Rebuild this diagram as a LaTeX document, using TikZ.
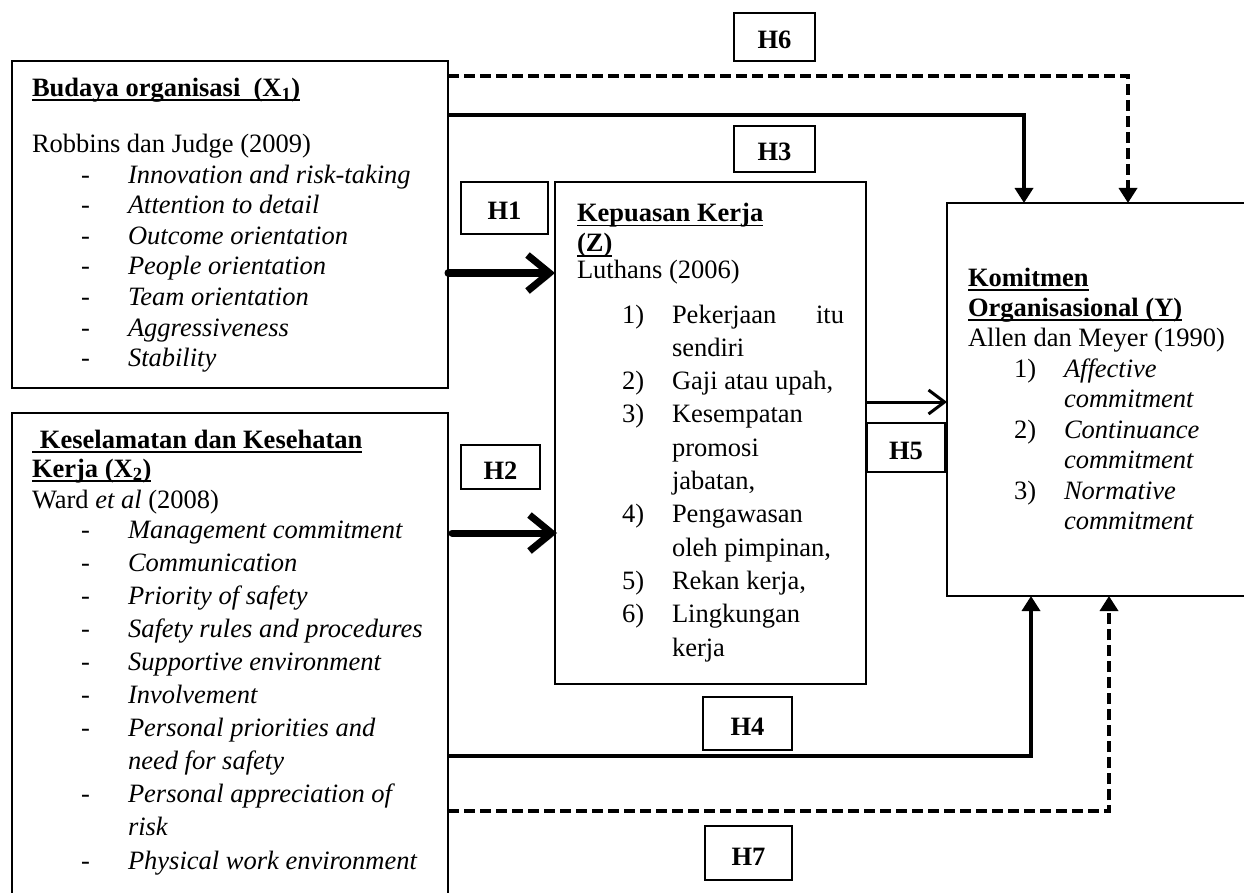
\documentclass[tikz,border=0pt]{standalone}
\usepackage{fontspec}
\setmainfont{Liberation Serif}
\usetikzlibrary{arrows.meta}
\newcommand\hdul[1]{\setbox0\hbox{#1}\rlap{\rule[-4.5pt]{\wd0}{1.8pt}}\box0}
\begin{document}
\begin{tikzpicture}[x=1pt,y=-1pt,
  every node/.style={inner sep=0pt, outer sep=0pt, font=\fontsize{26.5}{30}\selectfont},
  bigbox/.style={draw, line width=2pt, anchor=north west},
  hbox/.style={draw, line width=1.8pt, anchor=north west, font=\bfseries\fontsize{26.5}{30}\selectfont, text height=24pt, text depth=0pt},
  txt/.style={anchor=base west},
  conn/.style={line width=3.5pt, line join=miter},
  dconn/.style={line width=3.5pt, line join=miter, dash pattern=on 11pt off 5pt},
  tip/.style={-{Triangle[length=15pt,width=18pt]}},
  bigarrow/.style={line width=7pt, line cap=round, -{Straight Barb[length=22pt,width=36pt]},
    preaction={draw=black!30, transform canvas={shift={(2pt,-3pt)}}}},
  midarrow/.style={line width=3pt, -{Straight Barb[length=16pt,width=24pt]}}]
\useasboundingbox (0,0) rectangle (1244,893);

% ---------- boxes ----------
\node[bigbox, minimum width=436pt, minimum height=327pt] (x1) at (12,61) {};
\node[bigbox, minimum width=436pt, minimum height=500pt] (x2) at (12,413) {};
\node[bigbox, line width=2.4pt, minimum width=311pt, minimum height=502pt] (z) at (555,182) {};
\node[bigbox, line width=2.4pt, minimum width=310pt, minimum height=393pt] (y) at (947,203) {};

% ---------- hypothesis labels ----------
\node[hbox, minimum width=81pt, minimum height=48pt] (h6) at (734,13) {H6};
\node[hbox, minimum width=81pt, minimum height=46pt] (h3) at (734,126) {H3};
\node[hbox, minimum width=87pt, minimum height=52pt] (h1) at (461,182) {H1};
\node[hbox, minimum width=79pt, minimum height=44pt] (h2) at (461,445) {H2};
\node[hbox, minimum width=78pt, minimum height=49pt] (h5) at (867,423) {H5};
\node[hbox, minimum width=89pt, minimum height=53pt] (h4) at (703,697) {H4};
\node[hbox, minimum width=87pt, minimum height=54pt] (h7) at (705,826) {H7};

% ---------- X1 text ----------
\node[txt] (x1h) at (32,96.7) {\bfseries\hdul{Budaya organisasi \ (X\textsubscript{1})}};
\node[txt] (x1r) at (32,152.7) {Robbins dan Judge (2009)};
\foreach \t [count=\i] in {Innovation and risk-taking, Attention to detail, Outcome orientation, People orientation, Team orientation, Aggressiveness, Stability}{
  \node[txt] (x1d\i) at (81,152.5+30.6*\i) {-};
  \node[txt] (x1i\i) at (128,152.5+30.6*\i) {\itshape \t};
}

% ---------- X2 text ----------
\node[txt] (x2h) at (32,448) {\bfseries\hdul{\hspace*{0.3em}Keselamatan dan Kesehatan}};
\node[txt] (x2k) at (32,477) {\bfseries\hdul{Kerja (X\textsubscript{2})}};
\node[txt] (x2r) at (32,508) {Ward \textit{et al} (2008)};
\foreach \t/\d [count=\i from 0] in {Management commitment/1, Communication/1, Priority of safety/1, Safety rules and procedures/1, Supportive environment/1, Involvement/1, Personal priorities and/1, need for safety/0, Personal appreciation of/1, risk/0, Physical work environment/1}{
  \ifnum\d=1 \node[txt] (x2d\i) at (81,538+33.1*\i) {-};\fi
  \node[txt] (x2i\i) at (128,538+33.1*\i) {\itshape \t};
}

% ---------- Z text ----------
\node[txt] (zh) at (577,222) {\bfseries\hdul{Kepuasan Kerja}};
\node[txt] (zh2) at (577,252) {\bfseries\hdul{(Z)}};
\node[txt] (zr) at (577,279) {Luthans (2006)};
\node[txt] (zn1) at (622,323) {1)};
\node[txt] (zt1) at (672,323) {\makebox[172pt][l]{Pekerjaan\hfill itu}};
\node[txt] (zt1b) at (672,356.3) {sendiri};
\node[txt] (zn2) at (622,389.6) {2)};
\node[txt] (zt2) at (672,389.6) {Gaji atau upah,};
\node[txt] (zn3) at (622,422.9) {3)};
\node[txt] (zt3) at (672,422.9) {Kesempatan};
\node[txt] (zt3b) at (672,456.2) {promosi};
\node[txt] (zt3c) at (672,489.5) {jabatan,};
\node[txt] (zn4) at (622,522.8) {4)};
\node[txt] (zt4) at (672,522.8) {Pengawasan};
\node[txt] (zt4b) at (672,556.1) {oleh pimpinan,};
\node[txt] (zn5) at (622,589.4) {5)};
\node[txt] (zt5) at (672,589.4) {Rekan kerja,};
\node[txt] (zn6) at (622,622.7) {6)};
\node[txt] (zt6) at (672,622.7) {Lingkungan};
\node[txt] (zt6b) at (672,656) {kerja};

% ---------- Y text ----------
\node[txt] (yh) at (968,286) {\bfseries\hdul{Komitmen}};
\node[txt] (yh2) at (968,316) {\bfseries\hdul{Organisasional (Y)}};
\node[txt] (yr) at (968,346) {Allen dan Meyer (1990)};
\node[txt] (yn1) at (1014,377) {1)};
\node[txt] (yt1) at (1064,377) {\itshape Affective};
\node[txt] (yt1b) at (1064,407.5) {\itshape commitment};
\node[txt] (yn2) at (1014,438) {2)};
\node[txt] (yt2) at (1064,438) {\itshape Continuance};
\node[txt] (yt2b) at (1064,468.5) {\itshape commitment};
\node[txt] (yn3) at (1014,499) {3)};
\node[txt] (yt3) at (1064,499) {\itshape Normative};
\node[txt] (yt3b) at (1064,529.5) {\itshape commitment};

% ---------- routing coordinates ----------
\coordinate (r6) at (0,76);
\coordinate (c6) at (1128,0);
\coordinate (r3) at (0,115);
\coordinate (c3) at (1024,0);
\coordinate (r1) at (0,273);
\coordinate (r2) at (0,533);
\coordinate (r5) at (0,402);
\coordinate (r4) at (0,756);
\coordinate (c4) at (1031,0);
\coordinate (r7) at (0,811);
\coordinate (c7) at (1109,0);

% ---------- connectors ----------
\draw[dconn, tip] (x1.east |- r6) -| (y.north -| c6);
\draw[conn, tip] (x1.east |- r3) -| (y.north -| c3);
\draw[bigarrow] (x1.east |- r1) -- (z.west |- r1);
\draw[bigarrow] ([xshift=4pt]x2.east |- r2) -- ([xshift=2pt]z.west |- r2);
\draw[midarrow] (z.east |- r5) -- (y.west |- r5);
\draw[conn, tip] (x2.east |- r4) -| (y.south -| c4);
\draw[dconn, tip] (x2.east |- r7) -| (y.south -| c7);
\end{tikzpicture}
\end{document}
